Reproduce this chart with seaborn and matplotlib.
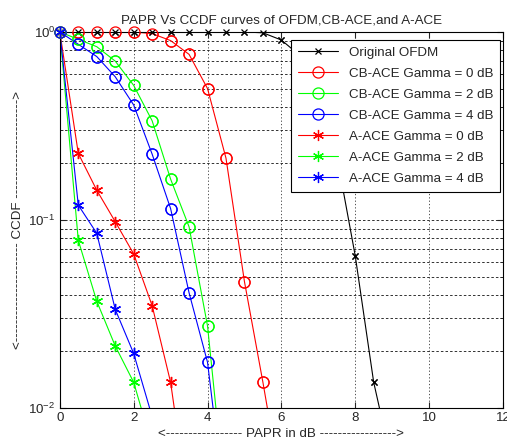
import numpy as np
import pandas as pd
import matplotlib
matplotlib.use("Agg")
import matplotlib.pyplot as plt
import seaborn as sns

# PAPR axis (dB)
papr_ofdm = [0, 0.5, 1, 1.5, 2, 2.5, 3, 3.5, 4, 4.5, 5, 5.5, 6, 6.5, 7, 7.5, 8, 8.5, 9]
ccdf_ofdm = [1, 1, 1, 1, 1, 1, 1, 1, 1, 1, 1, 0.99, 0.906, 0.75, 0.5, 0.22, 0.0645, 0.0137, 0.005]

papr_cb0 = [0, 0.5, 1, 1.5, 2, 2.5, 3, 3.5, 4, 4.5, 5, 5.5, 6]
ccdf_cb0 = [1, 1, 1, 1, 1, 0.98, 0.90, 0.76, 0.50, 0.213, 0.047, 0.0137, 0.0037]

papr_cb2 = [0, 0.5, 1, 1.5, 2, 2.5, 3, 3.5, 4, 4.5]
ccdf_cb2 = [1, 0.914, 0.835, 0.70, 0.52, 0.337, 0.165, 0.092, 0.0273, 0.003]

papr_cb4 = [0, 0.5, 1, 1.5, 2, 2.5, 3, 3.5, 4, 4.5]
ccdf_cb4 = [1, 0.86, 0.74, 0.578, 0.409, 0.224, 0.115, 0.041, 0.0175, 0.0027]

papr_a0 = [0, 0.5, 1, 1.5, 2, 2.5, 3, 3.5]
ccdf_a0 = [1, 0.226, 0.144, 0.098, 0.066, 0.035, 0.0137, 0.0028]

papr_a2 = [0, 0.5, 1, 1.5, 2, 2.5]
ccdf_a2 = [1, 0.078, 0.037, 0.0214, 0.0137, 0.0063]

papr_a4 = [0, 0.5, 1, 1.5, 2, 2.5]
ccdf_a4 = [1, 0.12, 0.085, 0.0335, 0.0195, 0.009]

ASTER = (6, 2, 0)  # matlab-like '*' asterisk

series = [
    ("Original OFDM", papr_ofdm, ccdf_ofdm, "black", "x", 4, True),
    ("CB-ACE Gamma = 0 dB", papr_cb0, ccdf_cb0, "#ff0000", "o", 8, False),
    ("CB-ACE Gamma = 2 dB", papr_cb2, ccdf_cb2, "#00ff00", "o", 8, False),
    ("CB-ACE Gamma = 4 dB", papr_cb4, ccdf_cb4, "#0000ff", "o", 8, False),
    ("A-ACE Gamma = 0 dB", papr_a0, ccdf_a0, "#ff0000", ASTER, 8, True),
    ("A-ACE Gamma = 2 dB", papr_a2, ccdf_a2, "#00ff00", ASTER, 8, True),
    ("A-ACE Gamma = 4 dB", papr_a4, ccdf_a4, "#0000ff", ASTER, 8, True),
]

sns.set_style("white")
plt.rcParams['font.family'] = ['Liberation Sans', 'DejaVu Sans']
FS = 9.6
plt.rcParams['font.size'] = FS

fig = plt.figure(figsize=(5.07, 4.44), dpi=100)
ax = fig.add_axes([0.118, 0.081, 0.874, 0.847])

YMIN, YMAX = 0.01, 1.0

for label, x, y, color, marker, ms, filled in series:
    df = pd.DataFrame({"papr": x, "ccdf": y})
    mfc = color if filled else "none"
    # line (clipped to axes)
    sns.lineplot(data=df, x="papr", y="ccdf", ax=ax, color=color, lw=0.8,
                 marker=marker, markersize=ms, mfc=mfc, mec=color, mew=0.9,
                 label=label, estimator=None, sort=False)
    # markers drawn unclipped so those on the frame are whole
    inside = df[(df.ccdf >= YMIN) & (df.ccdf <= YMAX)]
    ax.plot(inside.papr, inside.ccdf, ls="none", marker=marker, markersize=ms,
            mfc=mfc, mec=color, mew=0.9, clip_on=False, zorder=5)

ax.set_yscale("log")
ax.set_xlim(0, 12)
ax.set_ylim(YMIN, YMAX)
ax.set_xticks([0, 2, 4, 6, 8, 10, 12])

# grid: vertical dotted at major x, horizontal dashed at major+minor y
for xv in [2, 4, 6, 8, 10]:
    ax.axvline(xv, color="#333333", lw=0.6, ls=(0, (1.5, 2.5)), zorder=0)
for dec in [0.01, 0.1]:
    for k in range(1, 10):
        yv = dec * k
        if YMIN < yv < YMAX:
            ax.axhline(yv, color="#111111", lw=0.6, ls=(0, (3, 2.5)), zorder=0)

ax.tick_params(which="both", direction="in", top=True, right=True,
               bottom=True, left=True, labelsize=FS, pad=3)
ax.tick_params(which="major", length=4)
ax.tick_params(which="minor", length=2)
for sp in ax.spines.values():
    sp.set_color("black")
    sp.set_linewidth(0.8)

ax.set_title("PAPR Vs CCDF curves of OFDM,CB-ACE,and A-ACE", fontsize=FS, pad=6)
ax.set_xlabel("<" + "-" * 17 + " PAPR in dB " + "-" * 17 + ">", fontsize=FS, labelpad=3)
ax.set_ylabel("<" + "-" * 22 + " CCDF " + "-" * 22 + ">", fontsize=FS, labelpad=3)

leg = ax.legend(loc="upper right", bbox_to_anchor=(0.993, 0.979), borderaxespad=0,
                fancybox=False, framealpha=1, edgecolor="black", fontsize=FS,
                handlelength=3.0, labelspacing=0.65, borderpad=0.5)
leg.get_frame().set_linewidth(0.8)

fig.savefig("out.png", dpi=100)
